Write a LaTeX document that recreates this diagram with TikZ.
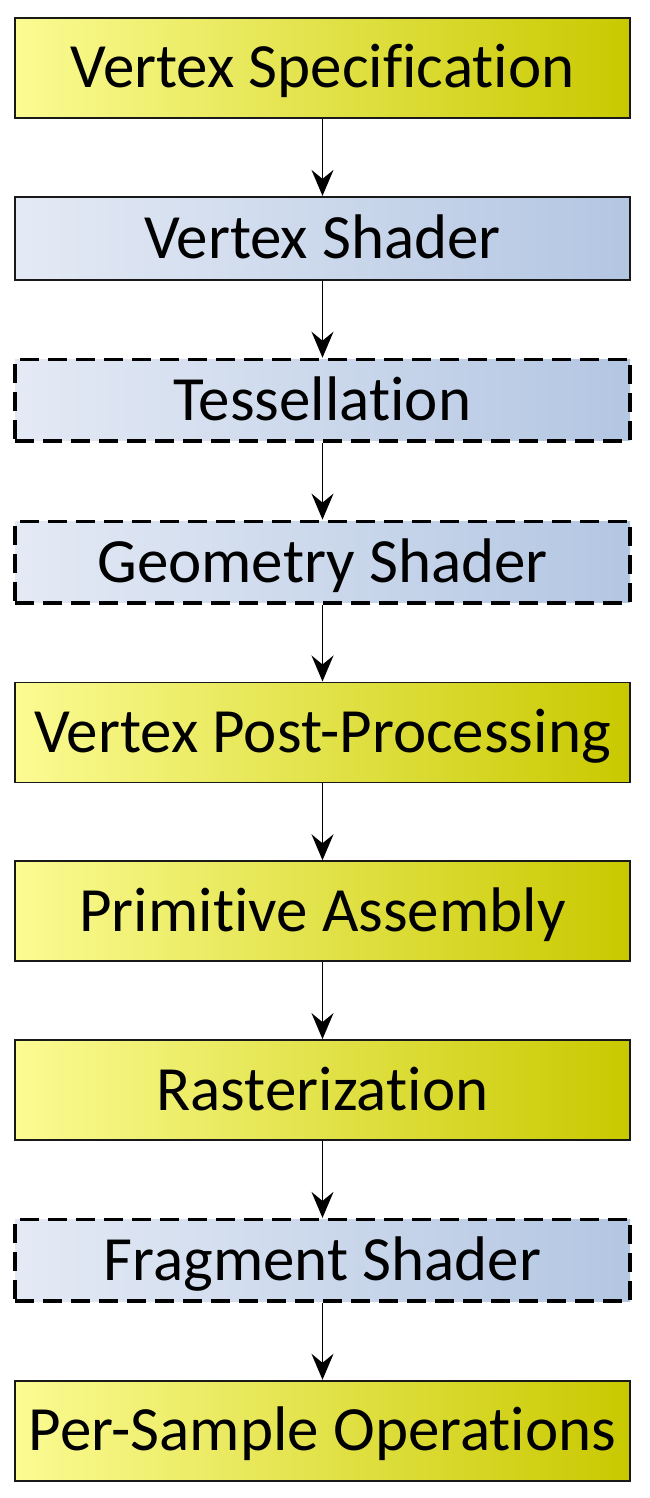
\documentclass[tikz,border=0pt]{standalone}
\usepackage{fontspec}
\setmainfont{Carlito}[Ligatures=NoCommon, RawFeature=-liga]
\usepackage{xcolor}
\usepackage{tikz}
\usetikzlibrary{arrows.meta,positioning,shapes}

\definecolor{stageyl}{HTML}{FBFB93}
\definecolor{stageyr}{HTML}{C9C900}
\definecolor{stagebl}{HTML}{E4EAF5}
\definecolor{stagebr}{HTML}{B3C6E2}

\begin{document}
\begin{tikzpicture}[x=1pt, y=1pt, node distance=77pt]
	\tikzstyle{fixed}
	  =[draw=black!90, rectangle, line width=1.8pt, minimum width=615pt,
	  minimum height=100pt, inner sep=0pt, text height=40pt, text depth=0pt,
	  font=\fontsize{63}{70}\selectfont, shading=axis,
	  left color=stageyl, right color=stageyr, shading angle=90]
	\tikzstyle{shader}
	  =[fixed, minimum height=83pt,
	  left color=stagebl, right color=stagebr]
	\tikzstyle{optional}
	  =[shader, draw=black, line width=3.4pt, minimum height=81.5pt,
	  dash pattern=on 19pt off 9pt]
	\tikzstyle{link}
	  =[-{Stealth[length=26pt, width=22pt, inset=9pt]}, line width=1.7pt]

	\useasboundingbox (0,0) rectangle (649,-1498);

	\node[fixed] (vspec) at (322.5,-68) {Vertex Specification};
	\node[shader] (vshader)
	  [below= of vspec] {Vertex Shader};
	\node[optional] (tess)
	  [below= of vshader] {Tessellation};
	\node[optional] (gshader)
	  [below= of tess] {Geometry Shader};
	\node[fixed] (vpost)
	  [below= of gshader] {Vertex Post-Processing};
	\node[fixed] (primasm)
	  [below= of vpost] {Primitive Assembly};
	\node[fixed] (raster)
	  [below= of primasm] {Rasterization};
	\node[optional] (fshader)
	  [below= of raster] {Fragment Shader};
	\node[fixed] (persample)
	  [below= of fshader] {Per-Sample Operations};

	\draw[link] (vspec)--(vshader);
	\draw[link] (vshader)--(tess);
	\draw[link] (tess)--(gshader);
	\draw[link] (gshader)--(vpost);
	\draw[link] (vpost)--(primasm);
	\draw[link] (primasm)--(raster);
	\draw[link] (raster)--(fshader);
	\draw[link] (fshader)--(persample);
\end{tikzpicture}
\end{document}
